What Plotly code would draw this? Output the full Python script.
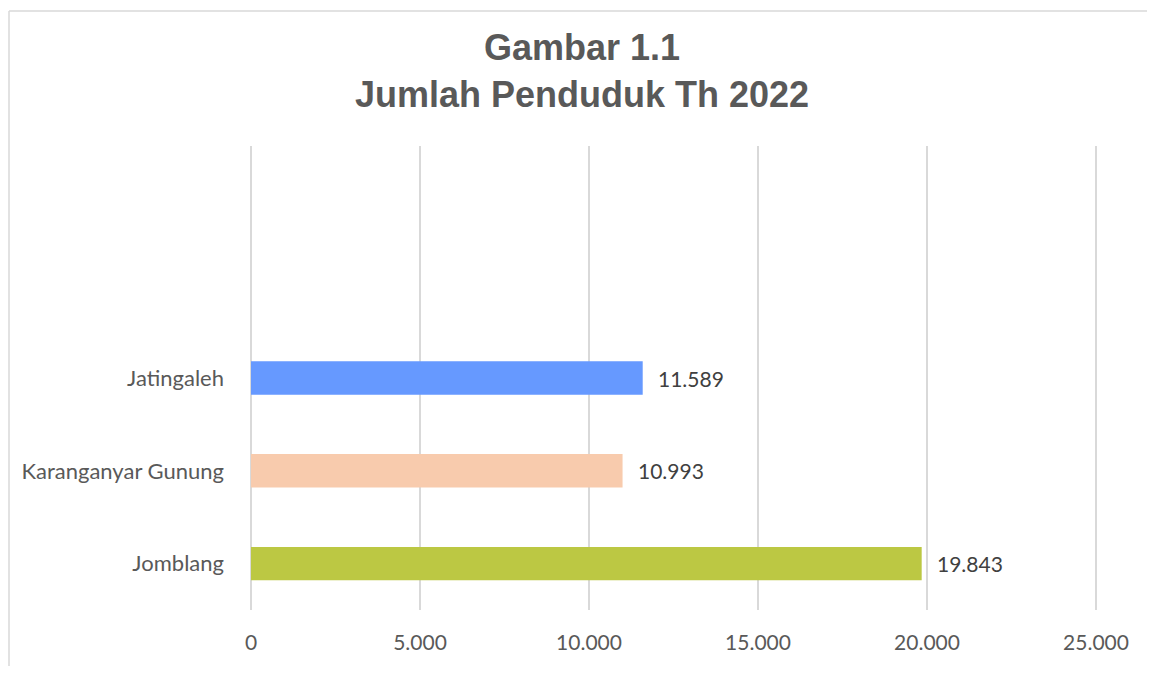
import plotly.graph_objects as go

categories = ["Jomblang", "Karanganyar Gunung", "Jatingaleh"]
values = [19843, 10993, 11589]
colors = ["#BCC843", "#F8CBAD", "#6699FF"]
x_ticks = [0, 5000, 10000, 15000, 20000, 25000]
x_max = 25000

W, H = 1139, 658
L, R, T, B = 241, 49, 138, 49
pw, ph = W - L - R, H - T - B
pad = 2 * x_max / (pw - 4)  # 2px of padding so the 0 and 25.000 grid lines are drawn

fig = go.Figure()
fig.add_trace(go.Bar(
    y=categories, x=values, orientation="h",
    marker=dict(color=colors, line=dict(width=0)),
    hoverinfo="skip",
))

for cat, val in zip(categories, values):
    fig.add_annotation(
        x=val, y=cat, xref="x", yref="y",
        text=f"{val:,}".replace(",", "."),
        showarrow=False, xanchor="left", xshift=13,
        font=dict(family="Lato", size=21, color="#404040"),
    )

fig.update_layout(
    width=W, height=H,
    margin=dict(l=L, r=R, t=T, b=B),
    paper_bgcolor="white", plot_bgcolor="white",
    separators=",.",
    bargap=0.64,
    showlegend=False,
    title=dict(
        text="Gambar 1.1<br>Jumlah Penduduk Th 2022",
        x=574 / W, xanchor="center", xref="container",
        y=1 - 52 / H, yanchor="top", yref="container",
        font=dict(family="Liberation Sans", size=36, color="#595959", weight="bold"),
    ),
    xaxis=dict(
        range=[-pad, x_max + pad], tickvals=x_ticks, tickformat=",d",
        showgrid=True, gridcolor="#D9D9D9", gridwidth=1.5,
        zeroline=False, showline=False,
        tickfont=dict(family="Lato", size=21, color="#595959"),
        ticks="", ticklabelstandoff=18,
    ),
    yaxis=dict(
        type="category", categoryorder="array", categoryarray=categories,
        range=[-0.5, 4.5],
        showgrid=False, zeroline=False, showline=False,
        tickfont=dict(family="Lato", size=22, color="#595959"),
        ticks="", ticklabelstandoff=24,
    ),
)

# chart frame: left and top edges, as seen in the reference
x_left = (1 - L) / pw
y_top = (H - B - 1) / ph
frame = dict(color="#D9D9D9", width=1.5)
fig.add_shape(type="line", xref="paper", yref="paper",
              x0=x_left, x1=x_left, y0=-0.2, y1=y_top, line=frame, layer="below")
fig.add_shape(type="line", xref="paper", yref="paper",
              x0=x_left, x1=(W - L) / pw, y0=y_top, y1=y_top, line=frame, layer="below")

fig.write_html("out.html")
